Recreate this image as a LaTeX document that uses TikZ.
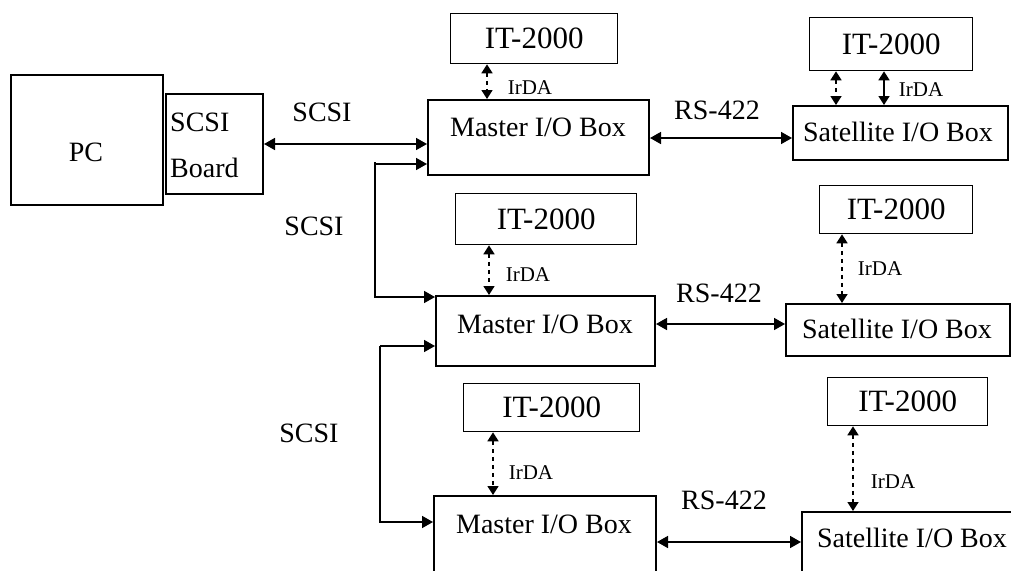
\documentclass[tikz,border=0pt]{standalone}
\usepackage{fontspec}
\setmainfont{Liberation Serif}
\usetikzlibrary{arrows.meta,calc}
\begin{document}
\begin{tikzpicture}[x=1pt,y=-1pt,
  box/.style={draw, line width=2pt, inner sep=0pt, anchor=north west},
  itbox/.style={draw, line width=1.3pt, inner sep=0pt, anchor=north west, font=\fontsize{31}{34}\selectfont},
  txt/.style={font=\fontsize{28}{32}\selectfont, inner sep=0pt},
  small/.style={font=\fontsize{21}{24}\selectfont, inner sep=0pt},
  tip/.tip={Triangle[length=11pt,width=12pt]},
  stip/.tip={Triangle[length=9pt,width=11pt]},
  conn/.style={line width=1.6pt, tip-tip},
  feed/.style={line width=1.6pt, -tip},
  irda/.style={line width=1.6pt, dash pattern=on 4pt off 4pt, stip-stip},
  irdas/.style={line width=1.6pt, stip-stip}]
\clip (0,0) rectangle (1011,570);
\useasboundingbox (0,0) rectangle (1011,570);

% PC and SCSI board
\node[box, minimum width=152, minimum height=130] (pc) at (10,74) {};
\node[txt] (pct) at (86,152) {PC};
\node[box, minimum width=97, minimum height=100] (sb) at (165,93) {};
\node[txt, anchor=west] (sbt1) at (170,122) {SCSI};
\node[txt, anchor=west] (sbt2) at (170,168) {Board};

% IT-2000 boxes
\node[itbox, minimum width=167, minimum height=50] (it1) at (450,13) {IT-2000};
\node[itbox, minimum width=163, minimum height=53] (it4) at (809,17) {IT-2000};
\node[itbox, minimum width=181, minimum height=51] (it2) at (455,193) {IT-2000};
\node[itbox, minimum width=153, minimum height=48] (it5) at (819,185) {IT-2000};
\node[itbox, minimum width=176, minimum height=48] (it3) at (463,383) {IT-2000};
\node[itbox, minimum width=160, minimum height=48] (it6) at (827,377) {IT-2000};

% Master boxes
\node[box, minimum width=221, minimum height=75] (m1) at (427,99) {};
\node[txt] (m1t) at (538,127) {Master I/O Box};
\node[box, minimum width=219, minimum height=70] (m2) at (435,295) {};
\node[txt] (m2t) at (545,324) {Master I/O Box};
\node[box, minimum width=222, minimum height=120] (m3) at (433,495) {};
\node[txt] (m3t) at (544,524) {Master I/O Box};

% Satellite boxes
\node[box, minimum width=215, minimum height=54] (s1) at (792,105) {};
\node[txt] (s1t) at (898,132) {Satellite I/O Box};
\node[box, minimum width=224, minimum height=52] (s2) at (785,303) {};
\node[txt] (s2t) at (897,329) {Satellite I/O Box};
\node[box, minimum width=260, minimum height=100] (s3) at (801,511) {};
\node[txt] (s3t) at (912,538) {Satellite I/O Box};

% labels
\node[txt] (l1) at (322,112) {SCSI};
\node[txt] (l2) at (314,226) {SCSI};
\node[txt] (l3) at (309,433) {SCSI};
\node[txt] (r1l) at (717,110) {RS-422};
\node[txt] (r2l) at (719,293) {RS-422};
\node[txt] (r3l) at (724,500) {RS-422};
\node[small] (i1) at (530,88) {IrDA};
\node[small] (i4) at (921,90) {IrDA};
\node[small] (i2) at (528,275) {IrDA};
\node[small] (i5) at (880,269) {IrDA};
\node[small] (i3) at (531,473) {IrDA};
\node[small] (i6) at (893,482) {IrDA};

% SCSI board to master 1
\draw[conn] (sb.east) -- (sb.east -| m1.west);

% feed lines
\coordinate (f1) at (375,162);
\coordinate (f1a) at (375,164);
\coordinate (f1b) at (375,297);
\draw[feed] (f1a) -- (f1a -| m1.west);
\draw[feed] (f1) -- (f1b) -- (f1b -| m2.west);
\coordinate (f2a) at (380,346);
\coordinate (f2b) at (380,522);
\draw[feed] (f2a) -- (f2a -| m2.west);
\draw[feed] (f2a) -- (f2b) -- (f2b -| m3.west);

% RS-422 links
\coordinate (r1) at (0,138);
\coordinate (r2) at (0,324);
\coordinate (r3) at (0,542);
\draw[conn] (m1.east |- r1) -- (s1.west |- r1);
\draw[conn] (m2.east |- r2) -- (s2.west |- r2);
\draw[conn] (m3.east |- r3) -- (s3.west |- r3);

% IrDA links
\coordinate (x1) at (487,0);
\coordinate (x4a) at (836,0);
\coordinate (x4b) at (884,0);
\coordinate (x2) at (489,0);
\coordinate (x5) at (842,0);
\coordinate (x3) at (493,0);
\coordinate (x6) at (853,0);
\draw[irda] (it1.south -| x1) -- (m1.north -| x1);
\draw[irda] (it4.south -| x4a) -- (s1.north -| x4a);
\draw[irdas] (it4.south -| x4b) -- (s1.north -| x4b);
\draw[irda] (it2.south -| x2) -- (m2.north -| x2);
\draw[irda] (it5.south -| x5) -- (s2.north -| x5);
\draw[irda] (it3.south -| x3) -- (m3.north -| x3);
\draw[irda] (it6.south -| x6) -- (s3.north -| x6);
\end{tikzpicture}
\end{document}
